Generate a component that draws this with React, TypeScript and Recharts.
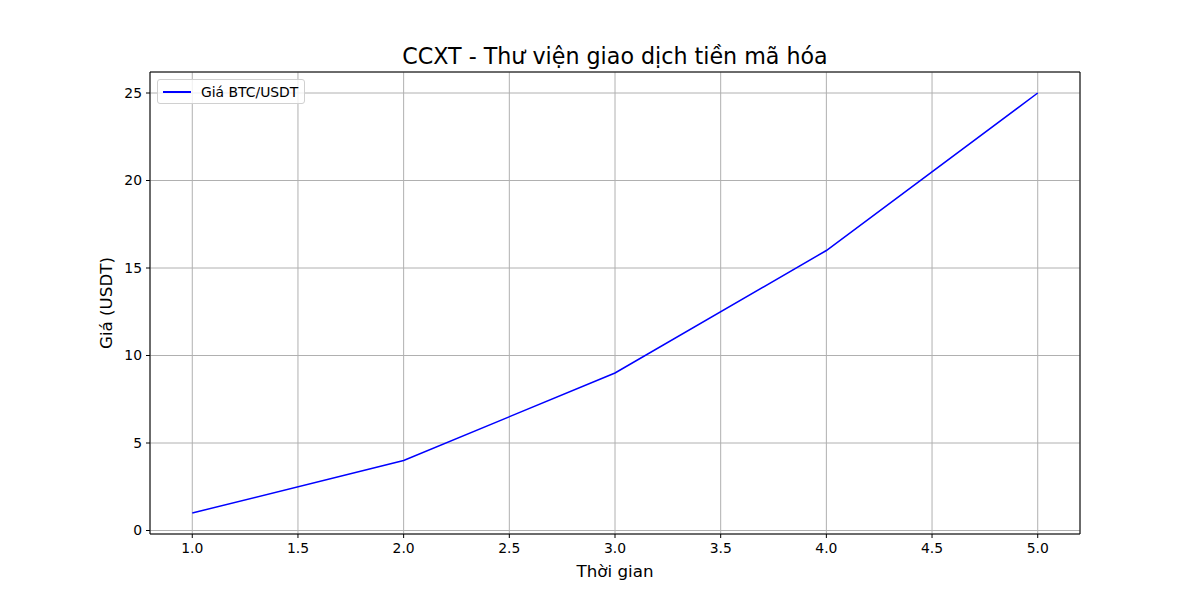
import React from "react";
import { LineChart, Line, XAxis, YAxis, CartesianGrid, ReferenceArea } from "recharts";

const times = [1, 2, 3, 4, 5];
const prices = [1, 4, 9, 16, 25];
const xTicks = [1.0, 1.5, 2.0, 2.5, 3.0, 3.5, 4.0, 4.5, 5.0];
const yTicks = [0, 5, 10, 15, 20, 25];

const data = times.map((t, i) => ({ t, price: prices[i] }));

const FONT = "'DejaVu Sans', sans-serif";

const LegendBox = () => (
  <div
    style={{
      position: "absolute",
      left: 157,
      top: 79,
      width: 148,
      height: 25,
      border: "1px solid #d0d0d0",
      borderRadius: 3,
      background: "rgba(255,255,255,0.8)",
      display: "flex",
      alignItems: "center",
      fontFamily: FONT,
      fontSize: 13.9,
      color: "#000",
      boxSizing: "border-box",
      zIndex: 2,
    }}
  >
    <div style={{ width: 28, height: 0, borderTop: "2px solid #0000ff", marginLeft: 5, marginRight: 10 }} />
    <span>Giá BTC/USDT</span>
  </div>
);

export default function App() {
  return (
    <div style={{ position: "fixed", left: 0, top: 0, width: 1200, height: 600, background: "#fff" }}>
      <div
        style={{
          position: "absolute",
          left: 150,
          width: 930,
          top: 43,
          textAlign: "center",
          fontFamily: FONT,
          fontSize: 22.2,
          color: "#000",
          zIndex: 2,
        }}
      >
        CCXT - Thư viện giao dịch tiền mã hóa
      </div>
      <div
        style={{
          position: "absolute",
          left: 150,
          width: 930,
          top: 561,
          textAlign: "center",
          fontFamily: FONT,
          fontSize: 16.7,
          color: "#000",
          zIndex: 2,
        }}
      >
        Thời gian
      </div>
      <div
        style={{
          position: "absolute",
          left: 106,
          top: 303,
          transform: "translate(-50%, -50%) rotate(-90deg)",
          fontFamily: FONT,
          fontSize: 16.7,
          color: "#000",
          whiteSpace: "nowrap",
          zIndex: 2,
        }}
      >
        Giá (USDT)
      </div>
      <div style={{ position: "absolute", left: 0, top: 0 }}>
        <LineChart
          width={1200}
          height={600}
          data={data}
          margin={{ top: 72, right: 120, bottom: 36, left: 90 }}
        >
          <CartesianGrid stroke="#b0b0b0" strokeWidth={1} />
          <XAxis
            dataKey="t"
            type="number"
            domain={[0.8, 5.2]}
            ticks={xTicks}
            tickFormatter={(v: number) => v.toFixed(1)}
            height={30}
            axisLine={false}
            tickLine={{ stroke: "#000" }}
            tickSize={4}
            tickMargin={5}
            tick={{ fill: "#000", fontSize: 13.9, fontFamily: FONT }}
            allowDataOverflow
          />
          <YAxis
            type="number"
            domain={[-0.2, 26.2]}
            ticks={yTicks}
            width={60}
            axisLine={false}
            tickLine={{ stroke: "#000" }}
            tickSize={4}
            tickMargin={4}
            tick={{ fill: "#000", fontSize: 13.9, fontFamily: FONT }}
            allowDataOverflow
          />
          <ReferenceArea
            x1={0.8}
            x2={5.2}
            y1={-0.2}
            y2={26.2}
            fill="none"
            fillOpacity={0}
            stroke="#000"
            strokeWidth={1}
            strokeOpacity={1}
            ifOverflow="visible"
          />
          <Line
            dataKey="price"
            type="linear"
            stroke="#0000ff"
            strokeWidth={1.5}
            dot={false}
            isAnimationActive={false}
          />
        </LineChart>
      </div>
      <LegendBox />
    </div>
  );
}
